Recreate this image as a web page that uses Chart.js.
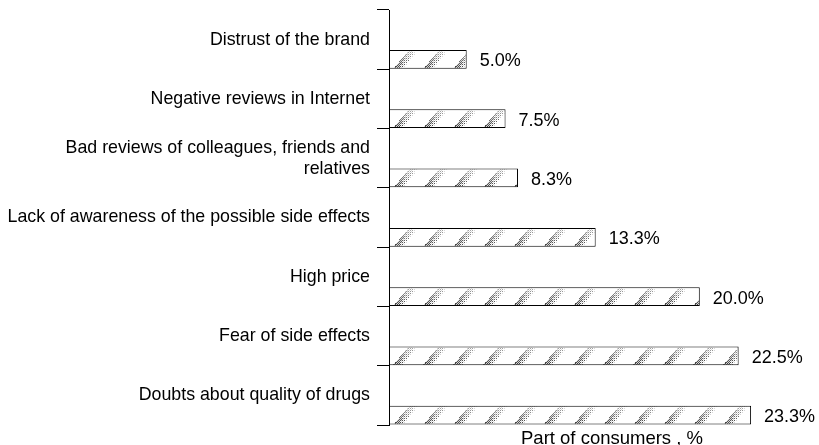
<!DOCTYPE html>
<html><head><meta charset="utf-8">
<script src="https://cdn.jsdelivr.net/npm/chart.js@4.4.1/dist/chart.umd.min.js"></script>
<style>
html,body{margin:0;padding:0;background:#fff;}
#wrap{width:819px;height:445px;overflow:hidden;position:relative;background:#fff;}
canvas{display:block;}
</style></head><body>
<div id="wrap"><canvas id="c" width="835" height="450"></canvas></div>
<script>
const categories = [
  "Distrust of the brand",
  "Negative reviews in Internet",
  ["Bad reviews of colleagues, friends and", "relatives"],
  "Lack of awareness of the possible side effects",
  "High price",
  "Fear of side effects",
  "Doubts about quality of drugs"
];
const values = [5.0, 7.5, 8.3, 13.3, 20.0, 22.5, 23.3];
const valueSuffix = "%";
const axisTitle = "Part of consumers , %";

const FONT = "'Liberation Sans', Arial, sans-serif";

function makeTile() {
  const W = 30, H = 19;
  const cv = document.createElement('canvas');
  cv.width = W; cv.height = H;
  const g = cv.getContext('2d');
  const img = g.createImageData(W, H);
  const bayer = [[0, 2], [3, 1]];
  for (let v = 0; v < H; v++) {
    for (let u = 0; u < W; u++) {
      const xl = 3 + (H - 1 - v) * 0.85;
      const d = (((u - xl) % W) + W) % W;
      let c = 255;
      const w = 11;
      if (d < w) {
        const t = d / w;
        const fy = v / (H - 1);
        const p = (1 - t) * (0.3 + 0.45 * fy);
        const thr = (bayer[v % 2][u % 2] + 0.5) / 4;
        if (p > thr) c = Math.round(175 - 115 * fy);
        else if (p > thr * 0.5) c = 215;
      }
      const k = (v * W + u) * 4;
      img.data[k] = img.data[k + 1] = img.data[k + 2] = c;
      img.data[k + 3] = 255;
    }
  }
  g.putImageData(img, 0, 0);
  return cv;
}
const tile = makeTile();

function barPattern(ctx) {
  const chart = ctx.chart;
  const ys = chart.scales.y;
  if (!ys) return '#fff';
  const n = categories.length;
  const band = (ys.bottom - ys.top) / n;
  const chunk = band / 3;
  const barH = chunk * 0.95;
  const center = ys.getPixelForValue(ctx.dataIndex);
  const barTop = center + band / 2 - chunk / 2 - barH / 2;
  const pat = chart.ctx.createPattern(tile, 'repeat');
  pat.setTransform(new DOMMatrix([1, 0, 0, 1, 0, Math.round(barTop)]));
  return pat;
}

const valueLabelPlugin = {
  id: 'valueLabels',
  afterDatasetsDraw(chart) {
    const ctx = chart.ctx;
    const meta = chart.getDatasetMeta(2);
    ctx.save();
    ctx.fillStyle = '#000';
    ctx.font = "18px " + FONT;
    ctx.textAlign = 'left';
    ctx.textBaseline = 'middle';
    meta.data.forEach((el, i) => {
      ctx.fillText(values[i].toFixed(1) + valueSuffix, el.x + 13, el.y + 2);
    });
    ctx.restore();
  }
};

new Chart(document.getElementById('c'), {
  type: 'bar',
  data: {
    labels: categories,
    datasets: [
      { label: '_spacer1', data: categories.map(() => null) },
      { label: '_spacer2', data: categories.map(() => null) },
      {
        label: 'Part of consumers',
        data: values,
        backgroundColor: barPattern,
        borderColor: '#000',
        borderWidth: 1,
        borderSkipped: false
      }
    ]
  },
  options: {
    indexAxis: 'y',
    responsive: false,
    animation: false,
    layout: { padding: { top: 10, left: 0, right: 0, bottom: 0 } },
    datasets: { bar: { categoryPercentage: 1, barPercentage: 0.95 } },
    plugins: { legend: { display: false }, tooltip: { enabled: false } },
    scales: {
      x: {
        min: 0, max: 28.7,
        grid: { display: false },
        border: { display: false },
        ticks: { display: false },
        title: { display: true, text: axisTitle, color: '#000', font: { family: FONT, size: 18.5 }, padding: { top: 0, bottom: 0 } },
        afterFit(s) { s.height = 25; s.paddingLeft = 0; s.paddingRight = 0; }
      },
      y: {
        grid: { display: true, offset: true, drawOnChartArea: false, drawTicks: true, tickLength: 12, color: '#000', lineWidth: 1 },
        border: { display: true, color: '#000', width: 1 },
        ticks: { color: '#000', font: { family: FONT, size: 17.8, lineHeight: 1.17 }, padding: 7, autoSkip: false },
        afterFit(s) { s.width = 389; s.paddingTop = 0; s.paddingBottom = 0; }
      }
    }
  },
  plugins: [valueLabelPlugin]
});
</script>
</body></html>
